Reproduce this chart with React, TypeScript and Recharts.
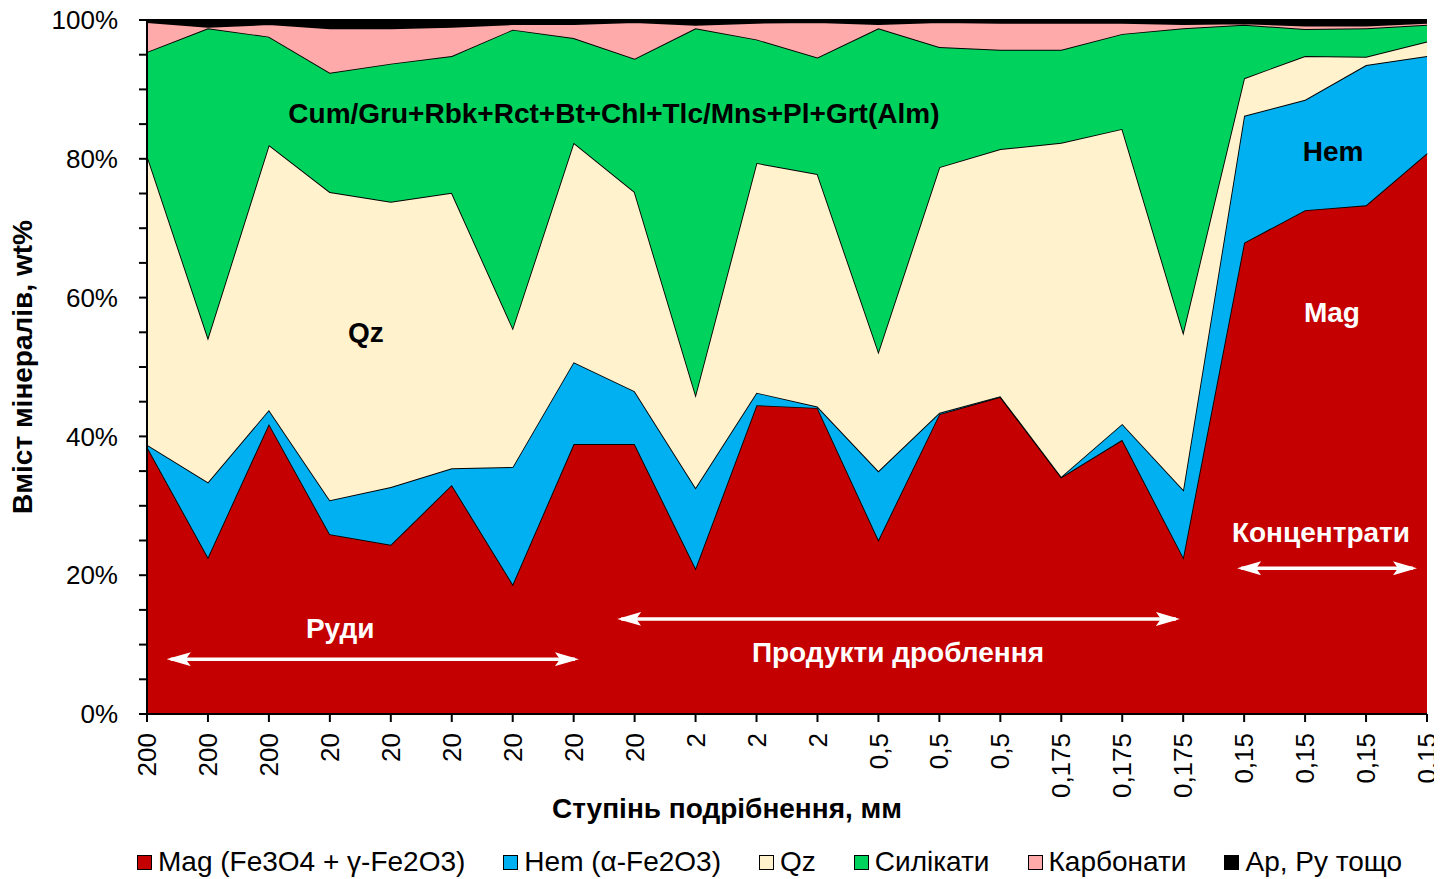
import React from "react";
import {
  AreaChart,
  Area,
  XAxis,
  YAxis,
  Legend,
  ReferenceLine,
  ReferenceDot,
  Label,
} from "recharts";

// ---------- data ----------
const sizes = [
  "200", "200", "200", "20", "20", "20", "20", "20", "20", "2", "2", "2",
  "0,5", "0,5", "0,5", "0,175", "0,175", "0,175", "0,15", "0,15", "0,15", "0,15",
];
const mag = [38.5, 22.6, 41.8, 25.9, 24.4, 33.0, 18.7, 38.9, 38.9, 21.0, 44.5, 44.1, 25.1, 43.2, 45.7, 34.1, 39.5, 22.6, 67.9, 72.6, 73.3, 80.8];
const hem = [0.3, 10.8, 2.0, 4.9, 8.3, 2.4, 16.9, 11.8, 7.6, 11.6, 1.8, 0.2, 9.9, 0.2, 0.1, 0.1, 2.3, 9.7, 18.3, 15.9, 20.2, 14.0];
const qz = [41.7, 20.8, 38.2, 44.4, 41.1, 39.7, 20.0, 31.6, 28.7, 13.4, 33.1, 33.5, 17.2, 35.4, 35.6, 48.1, 42.5, 22.7, 5.4, 6.3, 1.2, 2.1];
const sil = [14.9, 44.6, 15.6, 17.2, 19.9, 19.7, 43.0, 15.1, 19.2, 52.8, 17.8, 16.8, 46.6, 17.3, 14.3, 13.4, 13.7, 43.8, 7.7, 3.9, 4.1, 2.4];
const carb = [4.3, 0.2, 1.8, 6.4, 5.1, 4.2, 0.8, 2.0, 5.3, 0.5, 2.4, 5.1, 0.6, 3.6, 3.9, 3.9, 1.6, 0.6, 0.2, 0.5, 0.4, 0.3];
const other = [0.3, 1.0, 0.6, 1.2, 1.2, 1.0, 0.6, 0.6, 0.3, 0.7, 0.4, 0.3, 0.6, 0.3, 0.4, 0.4, 0.4, 0.6, 0.5, 0.8, 0.8, 0.4];

const yTicks = [0, 5, 10, 15, 20, 25, 30, 35, 40, 45, 50, 55, 60, 65, 70, 75, 80, 85, 90, 95, 100];

const seriesKeys = ["mag", "hem", "qz", "sil", "carb", "other"];
const seriesNames = [
  "Mag (Fe3O4 + γ-Fe2O3)",
  "Hem (α-Fe2O3)",
  "Qz",
  "Силікати",
  "Карбонати",
  "Ap, Py тощо",
];
const seriesColors = ["#C40000", "#00B0F0", "#FFF2CC", "#00D25E", "#FFAAAA", "#000000"];

// annotations (data coordinates: x = sample index, y = %)
const arrows = [
  { x1: 0.39, x2: 7.02, y: 7.9 },
  { x1: 7.78, x2: 16.88, y: 13.7 },
  { x1: 17.95, x2: 20.77, y: 21.0 },
];
const notes = [
  { x: 7.66, y: 86.6, text: "Cum/Gru+Rbk+Rct+Bt+Chl+Tlc/Mns+Pl+Grt(Alm)", color: "#000" },
  { x: 3.59, y: 55.0, text: "Qz", color: "#000" },
  { x: 19.46, y: 81.1, text: "Hem", color: "#000" },
  { x: 19.44, y: 57.9, text: "Mag", color: "#fff" },
  { x: 3.17, y: 12.4, text: "Руди", color: "#fff" },
  { x: 12.32, y: 8.9, text: "Продукти дроблення", color: "#fff" },
  { x: 19.26, y: 26.2, text: "Концентрати", color: "#fff" },
];

const data = sizes.map((s, i) => ({
  idx: i,
  mag: mag[i],
  hem: hem[i],
  qz: qz[i],
  sil: sil[i],
  carb: carb[i],
  other: other[i],
}));
const xTicks = sizes.map((_, i) => i);

const FONT = "'Liberation Sans', Arial, sans-serif";

const XTick = (props: any) => {
  const { x, y, payload } = props;
  return (
    <text
      x={x}
      y={y}
      transform={`rotate(-90 ${x} ${y})`}
      textAnchor="end"
      dy="0.35em"
      fontSize={26}
      fontFamily={FONT}
      fill="#000"
    >
      {sizes[payload.value]}
    </text>
  );
};

const LegendContent = () => (
  <div
    style={{
      display: "flex",
      alignItems: "center",
      height: 34,
      paddingLeft: 129,
      fontSize: 28,
      fontFamily: FONT,
      color: "#000",
      whiteSpace: "nowrap",
    }}
  >
    {seriesNames.map((n, i) => (
      <span key={n} style={{ display: "flex", alignItems: "center", marginRight: 38 }}>
        <span
          style={{
            display: "inline-block",
            width: 15,
            height: 15,
            background: seriesColors[i],
            border: "1px solid #000",
            boxSizing: "border-box",
            marginRight: 6,
          }}
        />
        {n}
      </span>
    ))}
  </div>
);

export default function App() {
  return (
    <div style={{ position: "relative", top: -8, width: 1434, height: 879 }}>
      <svg width={0} height={0} style={{ position: "absolute" }}>
        <defs>
          <marker
            id="arrowHead"
            viewBox="0 0 24 14"
            refX={20}
            refY={7}
            markerWidth={24}
            markerHeight={14}
            markerUnits="userSpaceOnUse"
            orient="auto-start-reverse"
          >
            <path d="M0,0 L24,7 L0,14 L5,7 Z" fill="#fff" />
          </marker>
        </defs>
      </svg>
      <AreaChart
        width={1434}
        height={879}
        data={data}
        margin={{ top: 20, right: 15, bottom: 0, left: 0 }}
      >
        <XAxis
          dataKey="idx"
          type="number"
          domain={[0, 21]}
          ticks={xTicks}
          interval={0}
          height={131}
          tick={<XTick />}
          tickSize={8}
          tickMargin={11}
          axisLine={{ stroke: "#000", strokeWidth: 2 }}
          tickLine={{ stroke: "#000", strokeWidth: 2 }}
        >
          <Label
            content={(p: any) => {
              const vb = p.viewBox;
              return (
                <text
                  x={vb.x + 580}
                  y={vb.y + 94}
                  textAnchor="middle"
                  dominantBaseline="central"
                  fontSize={28}
                  fontWeight="bold"
                  fontFamily={FONT}
                  fill="#000"
                >
                  Ступінь подрібнення, мм
                </text>
              );
            }}
          />
        </XAxis>
        <YAxis
          type="number"
          domain={[0, 100]}
          ticks={yTicks}
          interval={0}
          width={139}
          tickFormatter={(v: number) => (v % 20 === 0 ? `${v}%` : "")}
          tick={{ fontSize: 26, fontFamily: FONT, fill: "#000" }}
          tickSize={8}
          tickMargin={21}
          axisLine={{ stroke: "#000", strokeWidth: 2 }}
          tickLine={{ stroke: "#000", strokeWidth: 2 }}
        >
          <Label
            content={(p: any) => {
              const vb = p.viewBox;
              const cx = vb.x + 14;
              const cy = vb.y + vb.height / 2;
              return (
                <text
                  x={cx}
                  y={cy}
                  transform={`rotate(-90 ${cx} ${cy})`}
                  textAnchor="middle"
                  dominantBaseline="central"
                  fontSize={28}
                  fontWeight="bold"
                  fontFamily={FONT}
                  fill="#000"
                >
                  Вміст мінералів, wt%
                </text>
              );
            }}
          />
        </YAxis>
        {seriesKeys.map((k, i) => (
          <Area
            key={k}
            type="linear"
            dataKey={k}
            name={seriesNames[i]}
            stackId="1"
            fill={seriesColors[i]}
            fillOpacity={1}
            stroke="#000"
            strokeWidth={1.8}
            dot={false}
            activeDot={false}
            isAnimationActive={false}
          />
        ))}
        {arrows.map((a, i) => (
          <ReferenceLine
            key={`ar${i}`}
            segment={[
              { x: a.x1, y: a.y },
              { x: a.x2, y: a.y },
            ]}
            ifOverflow="visible"
            shape={(p: any) => (
              <line
                x1={p.x1}
                y1={p.y1}
                x2={p.x2}
                y2={p.y2}
                stroke="#fff"
                strokeWidth={3.5}
                markerStart="url(#arrowHead)"
                markerEnd="url(#arrowHead)"
              />
            )}
          />
        ))}
        {notes.map((n, i) => (
          <ReferenceDot
            key={`n${i}`}
            x={n.x}
            y={n.y}
            r={0}
            fill="none"
            stroke="none"
            ifOverflow="visible"
            label={{
              value: n.text,
              position: "center",
              fill: n.color,
              fontSize: 28,
              fontWeight: "bold",
              fontFamily: FONT,
            }}
          />
        ))}
        <Legend verticalAlign="bottom" content={<LegendContent />} />
      </AreaChart>
    </div>
  );
}
